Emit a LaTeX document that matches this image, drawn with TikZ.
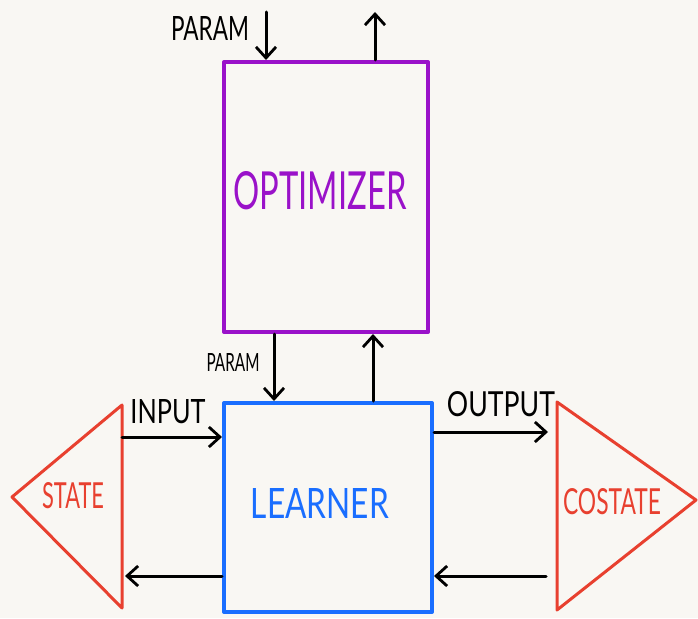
\documentclass[tikz,border=0pt]{standalone}
\usepackage{fontspec}
\setmainfont{Lato}
\usetikzlibrary{arrows.meta}
\definecolor{paper}{HTML}{F9F7F3}
\definecolor{optpurple}{HTML}{9A12C9}
\definecolor{learnblue}{HTML}{1A6EFF}
\definecolor{trired}{HTML}{E8402F}
% scale a word to a given width and cap height
\newcommand{\hand}[3]{\resizebox{#1pt}{#2pt}{#3}}
\begin{document}
\begin{tikzpicture}[x=1pt,y=-1pt,
  box/.style={draw,line width=4pt,inner sep=0pt,line join=round},
  tri/.style={draw=trired,line width=3pt,line join=round},
  flow/.style={draw=black,line width=3pt,line cap=round,
    -{Straight Barb[length=11pt,width=20pt,line width=2.8pt]}},
  word/.style={inner sep=0pt}]
\fill[paper] (0,0) rectangle (698,618);
\useasboundingbox (0,0) rectangle (698,618);

% the two boxes
\node[box,draw=optpurple,minimum width=204pt,minimum height=270pt] (opt) at (326,197) {};
\node[box,draw=learnblue,minimum width=208pt,minimum height=209pt] (learn) at (328,507.5) {};
\node[word,text=optpurple] (optlabel) at (320,191) {\hand{173}{38}{OPTIMIZER}};
\node[word,text=learnblue] (learnlabel) at (320,503) {\hand{138}{30}{LEARNER}};

% state and costate triangles
\coordinate (st1) at (12,497);
\coordinate (st2) at (122,405);
\coordinate (st3) at (122,608);
\draw[tri] (st1) -- (st2) -- (st3) -- cycle;
\coordinate (ct1) at (557,402);
\coordinate (ct2) at (696,500);
\coordinate (ct3) at (557,610);
\draw[tri] (ct1) -- (ct2) -- (ct3) -- cycle;
\node[word,text=trired] (statelabel) at (73,496) {\hand{62}{26}{STATE}};
\node[word,text=trired] (costatelabel) at (612,502) {\hand{98}{26}{COSTATE}};

% optimizer connections
\coordinate (pin) at (266,12);
\coordinate (pout) at (375,12);
\draw[flow] (pin) -- (pin |- opt.north);
\draw[flow] (pout |- opt.north) -- (pout);
\node[word] (paramtop) at (210,28) {\hand{78}{24}{PARAM}};

% optimizer <-> learner
\coordinate (mparam) at (274,0);
\coordinate (mup) at (373,0);
\draw[flow] (mparam |- opt.south) -- (mparam |- learn.north);
\draw[flow] (mup |- learn.north) -- (mup |- opt.south);
\node[word] (parammid) at (233,362) {\hand{53}{18}{PARAM}};

% learner <-> state / costate
\coordinate (inrow) at (0,437);
\coordinate (outrow) at (0,432);
\coordinate (backrow) at (0,576);
\draw[flow] (st2 |- inrow) -- (learn.west |- inrow);
\node[word] (inputlabel) at (168,412) {\hand{75}{24}{INPUT}};
\draw[flow] (learn.west |- backrow) -- ([xshift=3pt]st2 |- backrow);
\draw[flow] (learn.east |- outrow) -- ([xshift=-9pt]ct1 |- outrow);
\node[word] (outputlabel) at (501,404) {\hand{108}{25}{OUTPUT}};
\draw[flow] ([xshift=-11pt]ct1 |- backrow) -- (learn.east |- backrow);
\end{tikzpicture}
\end{document}
